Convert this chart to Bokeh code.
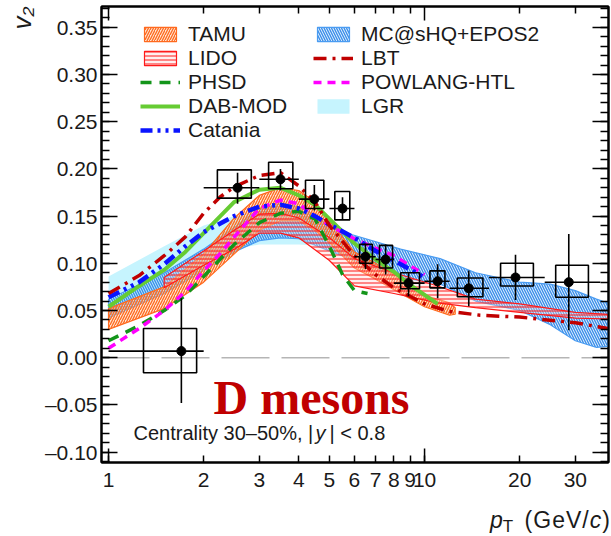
import math
from bokeh.plotting import figure
from bokeh.layouts import column
from bokeh.models import (Range1d, FixedTicker, SingleIntervalTicker, LinearAxis, LogAxis,
                          CustomJSTickFormatter, Label, Legend, LegendItem, Span, Title, Div)
from bokeh.embed import file_html
from bokeh.resources import INLINE

# ---------------- data: ALICE D-meson v2, 30-50% ----------------
pt = [1.70, 2.56, 3.50, 4.48, 5.50, 6.50, 7.53, 8.90, 11.0, 13.8, 19.4, 28.6]
v2 = [0.007, 0.180, 0.189, 0.168, 0.158, 0.107, 0.104, 0.079, 0.081, 0.0735, 0.085, 0.080]
stat_up = [0.056, 0.016, 0.011, 0.015, 0.012, 0.014, 0.016, 0.011, 0.018, 0.019, 0.024, 0.051]
stat_dn = [0.055, 0.017, 0.012, 0.012, 0.012, 0.013, 0.016, 0.014, 0.018, 0.019, 0.024, 0.051]
sys_up = [0.024, 0.019, 0.018, 0.020, 0.018, 0.013, 0.015, 0.011, 0.011, 0.011, 0.015, 0.018]
sys_dn = [0.023, 0.011, 0.010, 0.010, 0.012, 0.007, 0.009, 0.006, 0.007, 0.009, 0.009, 0.016]
bin_lo = [1, 2, 3, 4, 5, 6, 7, 8, 10, 12, 16, 24]
bin_hi = [2, 3, 4, 5, 6, 7, 8, 10, 12, 16, 24, 36]
box_lo = [1.29, 2.21, 3.21, 4.20, 5.20, 6.23, 7.20, 8.40, 10.4, 12.7, 17.4, 26.0]
box_hi = [1.90, 2.83, 3.83, 4.80, 5.80, 6.84, 7.92, 9.64, 11.6, 15.3, 22.1, 33.0]

# ---------------- models: bands ----------------
tamu_pt = [1.0, 1.5, 2.0, 2.5, 3.0, 3.5, 4.0, 4.5, 5.0, 6.0, 7.0, 8.0, 10.0, 12.0, 12.5]
tamu_hi = [0.052, 0.075, 0.110, 0.148, 0.172, 0.180, 0.177, 0.165, 0.145, 0.112, 0.100, 0.088, 0.066, 0.058, 0.053]
tamu_lo = [0.030, 0.052, 0.080, 0.110, 0.135, 0.145, 0.145, 0.135, 0.122, 0.095, 0.083, 0.072, 0.054, 0.045, 0.046]

lido_pt = [1.5, 2.0, 2.5, 3.0, 3.5, 4.0, 5.0, 6.0, 8.0, 11.0, 14.5, 20.0, 30.0, 38.0]
lido_hi = [0.085, 0.113, 0.135, 0.152, 0.153, 0.148, 0.127, 0.105, 0.090, 0.076, 0.062, 0.057, 0.048, 0.046]
lido_lo = [0.074, 0.098, 0.115, 0.132, 0.132, 0.127, 0.103, 0.076, 0.068, 0.058, 0.053, 0.048, 0.042, 0.041]

mc_pt = [1.0, 1.5, 2.0, 2.5, 3.0, 3.5, 4.0, 5.0, 5.8, 8.4, 11.2, 14.5, 20.0, 25.0, 30.0, 35.0, 38.0]
mc_hi = [0.062, 0.090, 0.115, 0.138, 0.158, 0.163, 0.160, 0.143, 0.131, 0.115, 0.105, 0.090, 0.080, 0.078, 0.071, 0.062, 0.058]
mc_lo = [0.042, 0.068, 0.092, 0.112, 0.124, 0.127, 0.126, 0.113, 0.105, 0.085, 0.078, 0.060, 0.050, 0.035, 0.018, 0.011, 0.012]

lgr_pt = [1.0, 1.5, 2.0, 2.5, 3.0, 4.0, 5.0]
lgr_hi = [0.086, 0.118, 0.140, 0.150, 0.155, 0.152, 0.140]
lgr_lo = [0.050, 0.075, 0.100, 0.115, 0.120, 0.120, 0.118]

# ---------------- models: curves ----------------
phsd_pt = [1.0, 1.25, 1.5, 1.75, 2.0, 2.5, 3.0, 3.5, 4.0, 4.5, 5.0, 5.5, 6.0, 6.6]
phsd_v2 = [0.018, 0.034, 0.050, 0.066, 0.086, 0.120, 0.143, 0.153, 0.155, 0.147, 0.118, 0.088, 0.071, 0.068]

dab_pt = [1.0, 1.25, 1.5, 1.75, 2.0, 2.5, 3.0, 3.5, 4.0, 4.5, 5.0, 6.0, 7.0, 8.0, 9.0, 11.0]
dab_v2 = [0.054, 0.076, 0.093, 0.112, 0.132, 0.165, 0.178, 0.180, 0.172, 0.162, 0.147, 0.121, 0.104, 0.091, 0.077, 0.057]

cat_pt = [1.0, 1.25, 1.5, 1.75, 2.0, 2.5, 3.0, 3.5, 4.0, 4.5, 5.0, 6.0, 7.0, 8.0, 10.0]
cat_v2 = [0.064, 0.080, 0.099, 0.118, 0.133, 0.150, 0.160, 0.162, 0.158, 0.150, 0.141, 0.127, 0.113, 0.103, 0.085]

lbt_pt = [1.0, 1.25, 1.5, 1.75, 2.0, 2.25, 2.5, 3.0, 3.5, 4.0, 4.5, 5.0, 6.0, 7.0, 8.0, 10.0, 12.0, 15.0, 20.0, 30.0, 38.0]
lbt_v2 = [0.068, 0.087, 0.108, 0.128, 0.153, 0.170, 0.181, 0.193, 0.196, 0.182, 0.165, 0.140, 0.108, 0.088, 0.074, 0.057, 0.049, 0.045, 0.043, 0.037, 0.031]

powl_pt = [1.0, 1.25, 1.5, 1.75, 2.0, 2.25, 2.5, 3.0, 3.5, 4.0, 4.5, 5.0, 6.0, 7.0, 8.0, 10.0]
powl_v2 = [0.010, 0.031, 0.050, 0.070, 0.092, 0.110, 0.128, 0.158, 0.167, 0.163, 0.150, 0.140, 0.126, 0.116, 0.108, 0.088]

# ---------------- axes ----------------
X_RANGE = (0.95, 38.2)
Y_RANGE = (-0.111, 0.372)
x_major = [1, 2, 3, 4, 5, 6, 7, 8, 9, 10, 20, 30]
x_long = [1, 10]
x_short = [2, 3, 4, 5, 6, 7, 8, 9, 20, 30]

FONT = "Liberation Sans"
TXT = "#1a1a1a"

p = figure(width=611, height=506, x_axis_type="log",
           x_range=Range1d(*X_RANGE), y_range=Range1d(*Y_RANGE),
           output_backend="svg", toolbar_location=None,
           min_border_left=101, min_border_right=3, min_border_top=6, min_border_bottom=44)
p.xgrid.visible = False
p.ygrid.visible = False
p.outline_line_color = "black"
p.outline_line_width = 2
p.background_fill_color = "white"
p.border_fill_color = "white"

# bottom axis
xa = p.xaxis[0]
xa.ticker = FixedTicker(ticks=x_major, minor_ticks=[])
xa.formatter = CustomJSTickFormatter(code="return Math.round(tick).toString();")
xa.major_tick_in = 7
xa.major_tick_out = 0
xa.minor_tick_in = 0
xa.minor_tick_out = 0
xa.axis_line_color = "black"
xa.axis_line_width = 2
xa.major_tick_line_width = 1.5
xa.major_label_text_font = FONT
xa.major_label_text_font_size = "21px"
xa.major_label_text_color = TXT
xa.major_label_standoff = 10

# left axis
ya = p.yaxis[0]
ya.ticker = SingleIntervalTicker(interval=0.05, num_minor_ticks=5)
ya.formatter = CustomJSTickFormatter(code="""
const v = Math.abs(tick) < 1e-9 ? 0 : tick;
return (v < 0 ? "\u2013" : "") + Math.abs(v).toFixed(2);
""")
ya.major_tick_in = 16
ya.major_tick_out = 0
ya.minor_tick_in = 8
ya.minor_tick_out = 0
ya.axis_line_color = "black"
ya.axis_line_width = 2
ya.major_tick_line_width = 1.5
ya.minor_tick_line_width = 1.5
ya.major_label_text_font = FONT
ya.major_label_text_font_size = "21px"
ya.major_label_text_color = TXT
ya.major_label_standoff = 4

# right axis (ticks only)
ra = LinearAxis(ticker=SingleIntervalTicker(interval=0.05, num_minor_ticks=5),
                major_label_text_font_size="1px", major_label_text_alpha=0, major_label_standoff=0,
                major_tick_in=16, major_tick_out=0, minor_tick_in=8, minor_tick_out=0,
                axis_line_color="black", axis_line_width=2,
                major_tick_line_width=1.5, minor_tick_line_width=1.5)
p.add_layout(ra, "right")

# top axis (ticks only)
ta = LogAxis(ticker=FixedTicker(ticks=x_long, minor_ticks=x_short),
             major_label_text_font_size="1px", major_label_text_alpha=0, major_label_standoff=0,
             major_tick_in=14, major_tick_out=0, minor_tick_in=7, minor_tick_out=0,
             axis_line_color="black", axis_line_width=2,
             major_tick_line_width=1.5, minor_tick_line_width=1.5)
p.add_layout(ta, "above")

# y-axis title at the top end
p.add_layout(Title(text="v\u2082", align="right", text_font=FONT, text_font_size="26px",
                   text_font_style="italic", text_color=TXT, standoff=9), "left")

# long bottom ticks at 1 and 10
tick_len = (Y_RANGE[1] - Y_RANGE[0]) * 14.0 / 456.0
p.segment(x0=x_long, x1=x_long, y0=[Y_RANGE[0]] * len(x_long),
          y1=[Y_RANGE[0] + tick_len] * len(x_long), line_color="black", line_width=1.5)

# zero line
p.add_layout(Span(location=0, dimension="width", line_color="#b5b5b5",
                  line_dash="48 12", line_width=1.5, level="underlay"))


def band(xs, lo, hi):
    return list(xs) + list(xs)[::-1], list(hi) + list(lo)[::-1]


# ---------------- bands ----------------
bx, by = band(lgr_pt, lgr_lo, lgr_hi)
r_lgr = p.patch(bx, by, fill_color="#c6f4fe", fill_alpha=1.0, line_color=None)

bx, by = band(mc_pt, mc_lo, mc_hi)
r_mc = p.patch(bx, by, fill_color="#8cc6ff", fill_alpha=0.25, line_color="#4a9cf2", line_width=1.2,
               hatch_pattern="left_diagonal_line", hatch_color="#3d8fe8", hatch_weight=1.4, hatch_scale=5)

bx, by = band(tamu_pt, tamu_lo, tamu_hi)
r_tamu = p.patch(bx, by, fill_color="#ffc8a0", fill_alpha=0.45, line_color="#ff6a1f", line_width=1.2,
                 hatch_pattern="right_diagonal_line", hatch_color="#ff6a1f", hatch_weight=1.3, hatch_scale=5)

bx, by = band(lido_pt, lido_lo, lido_hi)
r_lido = p.patch(bx, by, fill_color="#ffd0d0", fill_alpha=0.35, line_color="#ff1a1a", line_width=1.2,
                 hatch_pattern="horizontal_line", hatch_color="#ff1a1a", hatch_weight=1.0, hatch_scale=4)

# ---------------- curves ----------------
r_phsd = p.line(phsd_pt, phsd_v2, line_color="#13951a", line_width=3.5, line_dash="11 8")
r_dab = p.line(dab_pt, dab_v2, line_color="#66cc33", line_width=4)
r_powl = p.line(powl_pt, powl_v2, line_color="#ff00ff", line_width=3.5, line_dash="8 6")
r_cat = p.line(cat_pt, cat_v2, line_color="#0a14ff", line_width=4.5, line_dash="12 5 3 5 3 5")
r_lbt = p.line(lbt_pt, lbt_v2, line_color="#c00000", line_width=3.5, line_dash="13 6 3 6")

# ---------------- data ----------------
p.quad(left=box_lo, right=box_hi,
       bottom=[v - d for v, d in zip(v2, sys_dn)], top=[v + u for v, u in zip(v2, sys_up)],
       fill_alpha=0, line_color="black", line_width=1.6)
p.segment(x0=pt, x1=pt, y0=[v - d for v, d in zip(v2, stat_dn)], y1=[v + u for v, u in zip(v2, stat_up)],
          line_color="black", line_width=1.6)
p.segment(x0=bin_lo, x1=bin_hi, y0=v2, y1=v2, line_color="black", line_width=1.6)
p.scatter(pt, v2, size=9, color="black")

# ---------------- legends ----------------
def make_legend(items, loc):
    lg = Legend(items=items, location=loc, orientation="vertical",
                padding=0, margin=0, spacing=0, border_line_color=None,
                background_fill_alpha=0, glyph_width=40, glyph_height=18,
                label_height=24, label_standoff=8,
                label_text_font=FONT, label_text_font_size="21px", label_text_color=TXT)
    return lg

leg1 = make_legend([LegendItem(label="TAMU", renderers=[r_tamu]),
                    LegendItem(label="LIDO", renderers=[r_lido]),
                    LegendItem(label="PHSD", renderers=[r_phsd]),
                    LegendItem(label="DAB-MOD", renderers=[r_dab]),
                    LegendItem(label="Catania", renderers=[r_cat])], (39, 320))
leg2 = make_legend([LegendItem(label="MC@sHQ+EPOS2", renderers=[r_mc]),
                    LegendItem(label="LBT", renderers=[r_lbt]),
                    LegendItem(label="POWLANG-HTL", renderers=[r_powl]),
                    LegendItem(label="LGR", renderers=[r_lgr])], (212, 344))
p.add_layout(leg1)
p.add_layout(leg2)

# ---------------- texts inside the frame (frame-relative screen units) ----------------
def lab(text, x, y, size, **kw):
    opts = dict(x=x, y=y, x_units="screen", y_units="screen", text=text,
                text_font=FONT, text_font_size=size, text_color=TXT,
                text_align="left", text_baseline="alphabetic")
    opts.update(kw)
    p.add_layout(Label(**opts))

lab("D mesons", 112, 65, "48px", text_font="Liberation Serif", text_font_style="bold", text_color="#c00000")
lab("Centrality 30\u201350%, |", 32, 30, "20px")
lab("y", 214, 30, "20px", text_font_style="italic")
lab("| < 0.8", 228, 30, "20px")

# ---------------- x-axis title (below the figure) ----------------
xtitle = Div(
    text=('<div style="margin-left:485px; width:125px; font-family:\'Liberation Sans\'; '
          'font-size:23px; line-height:18px; color:#1a1a1a; white-space:nowrap;">'
          '<i>p</i><span style="font-size:17px; position:relative; top:4px; margin-right:4px;">T</span>'
          '<span style="letter-spacing:1px;"> (GeV/<i>c</i>)</span></div>'),
    width=611, height=30)

layout = column(p, xtitle, spacing=0)
open("out.html", "w").write(file_html(layout, INLINE))
